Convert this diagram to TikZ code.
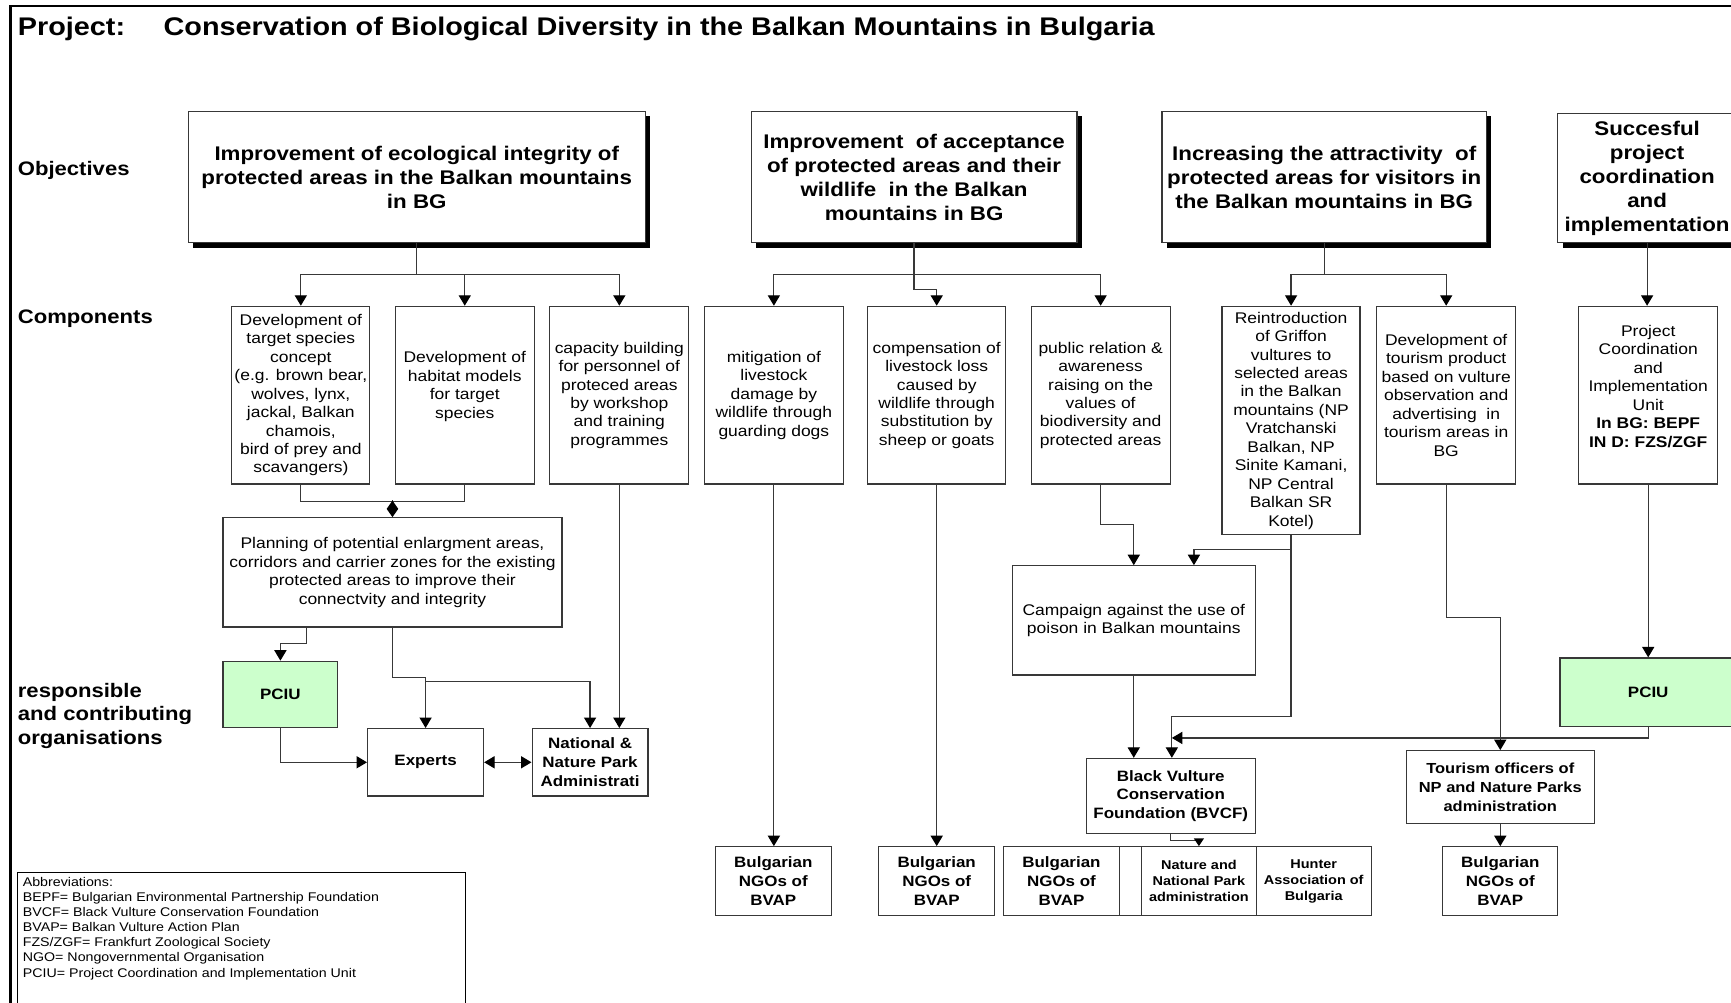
\documentclass[tikz,border=0pt]{standalone}
\usepackage{fontspec}
\setmainfont{Liberation Sans}[FakeStretch=1.13]
\usetikzlibrary{arrows.meta,shadows,calc}
\definecolor{pcgreen}{HTML}{CCFFCC}
\definecolor{ln}{HTML}{383838}
\newcommand{\fsz}[2]{\fontsize{#1}{#2}\selectfont}
\begin{document}
\begin{tikzpicture}[x=1pt,y=-1pt,
  box/.style={draw=ln, line width=1.1pt, inner sep=0pt, align=center, fill=white},
  sz/.style 2 args={minimum width=#1pt, minimum height=#2pt},
  obj/.style={box, font=\bfseries\fsz{17.9}{21.7}, drop shadow={shadow xshift=4.5pt, shadow yshift=-4.5pt, fill=black, opacity=1}},
  comp/.style={box, font=\fsz{14}{16.7}},
  ctext/.style={inner sep=0pt, align=center, font=\fsz{14}{16.7}},
  org/.style={box, font=\bfseries\fsz{13.6}{17}},
  smallorg/.style={box, font=\bfseries\fsz{11.6}{14.5}},
  pcfill/.style={fill=pcgreen},
  lab/.style={inner sep=0pt, align=left, font=\bfseries\fsz{17.7}{21.5}},
  conn/.style={draw=ln, line width=1.1pt},
  arr/.style={conn, -{Triangle[length=9.5pt,width=11pt,black]}},
  dbl/.style={conn, {Triangle[length=9.5pt,width=11pt,black]}-{Triangle[length=9.5pt,width=11pt,black]}},
]
\useasboundingbox (0,0) rectangle (1568,908);
\clip (0,0) rectangle (1568,908);
\fill[white] (0,0) rectangle (1568,908);

% frame
\draw[line width=2pt, black] (9.5,920) -- (9.5,5.4) -- (1580,5.4);

% title
\node[anchor=base west, inner sep=0pt, font=\bfseries\fsz{23.1}{26}] (tp) at (16,32) {Project:};
\node[anchor=base west, inner sep=0pt, font=\bfseries\fsz{23.1}{26}] (tt) at (148,32) {Conservation of Biological Diversity in the Balkan Mountains in Bulgaria};

% row labels
\node[lab, anchor=base west] (l1) at (16,159) {Objectives};
\node[lab, anchor=base west] (l2) at (16,293) {Components};
\node[lab, anchor=north west] (l3) at (16,618.4) {responsible\\and contributing\\organisations};

% objectives
\node[obj, sz={414}{119}] (O1) at (377.5,160.5) {Improvement of ecological integrity of\\protected areas in the Balkan mountains\\in BG};
\node[obj, sz={295}{119}] (O2) at (828,160.5) {Improvement~ of acceptance\\of protected areas and their\\wildlife~ in the Balkan\\mountains in BG};
\node[obj, sz={294}{119}] (O3) at (1199.5,160.5) {Increasing the attractivity~ of\\protected areas for visitors in\\the Balkan mountains in BG};
\node[obj, sz={162}{117}] (O4) at (1492,161.5) {Succesful\\project\\coordination\\and\\implementation};

% components
\node[comp, sz={125}{161}] (C1) at (272.5,358) {Development of\\target species\\concept\\(e.g. brown bear,\\wolves, lynx,\\jackal, Balkan\\chamois,\\bird of prey and\\scavangers)};
\node[comp, sz={126}{161}] (C2) at (421,358) {};
\node[ctext] (C2t) at (421,350) {Development of\\habitat models\\for target\\species};
\node[comp, sz={126}{161}] (C3) at (561,358) {capacity building\\for personnel of\\proteced areas\\by workshop\\and training\\programmes};
\node[comp, sz={126}{161}] (C4) at (701,358) {mitigation of\\livestock\\damage by\\wildlife through\\guarding dogs};
\node[comp, sz={125}{161}] (C5) at (848.5,358) {compensation of\\livestock loss\\caused by\\wildlife through\\substitution by\\sheep or goats};
\node[comp, sz={126}{161}] (C6) at (997,358) {public relation \&\\awareness\\raising on the\\values of\\biodiversity and\\protected areas};
\node[comp, sz={125}{207}] (C7) at (1169.5,381) {Reintroduction\\of Griffon\\vultures to\\selected areas\\in the Balkan\\mountains (NP\\Vratchanski\\Balkan, NP\\Sinite Kamani,\\NP Central\\Balkan SR\\Kotel)};
\node[comp, sz={126}{161}] (C8) at (1310,358) {Development of\\tourism product\\based on vulture\\observation and\\advertising~ in\\tourism areas in\\BG};
\node[comp, sz={126}{161}] (C9) at (1493,358) {};
\node[ctext] (C9t) at (1493,350) {Project\\Coordination\\and\\Implementation\\Unit\\\textbf{In BG: BEPF}\\\textbf{IN D: FZS/ZGF}};

% second level
\node[comp, sz={307}{99}] (P) at (355.5,518.5) {Planning of potential enlargment areas,\\corridors and carrier zones for the existing\\protected areas to improve their\\connectvity and integrity};
\node[comp, sz={220}{99}] (CA) at (1027,562) {Campaign against the use of\\poison in Balkan mountains};

% organisations
\node[org, pcfill, sz={104}{60}] (PC1) at (254,629) {PCIU};
\node[org, sz={105}{61}] (EX) at (385.5,690.5) {Experts};
\node[org, sz={105}{61}] (NA) at (534.5,690.5) {National \&\\Nature Park\\Administrati};
\node[org, pcfill, sz={160}{62}] (PC2) at (1493,627) {PCIU};
\node[org, sz={153}{68}] (BV) at (1060.5,721) {Black Vulture\\Conservation\\Foundation (BVCF)};
\node[org, font=\bfseries\fsz{13.2}{17}, sz={170}{66}] (TO) at (1359,713) {Tourism officers of\\NP and Nature Parks\\administration};

\node[org, sz={105}{62}] (N1) at (700.5,798) {Bulgarian\\NGOs of\\BVAP};
\node[org, sz={105}{62}] (N2) at (848.5,798) {Bulgarian\\NGOs of\\BVAP};
\node[org, sz={105}{62}] (N3) at (961.5,798) {Bulgarian\\NGOs of\\BVAP};
\node[box, sz={20}{62}] (EM) at (1024,798) {};
\node[smallorg, sz={104}{62}] (NN) at (1086,798) {Nature and\\National Park\\administration};
\node[smallorg, sz={104}{62}] (HU) at (1190,798) {Hunter\\Association of\\Bulgaria};
\node[org, sz={104}{62}] (N4) at (1359,798) {Bulgarian\\NGOs of\\BVAP};

% abbreviations
\node[draw=black, line width=1pt, inner sep=0pt, anchor=north west, sz={406}{140}] (AB) at (15,789.6) {};
\node[anchor=north west, inner sep=0pt, align=left, font=\fsz{11.4}{13.7}] (ABt) at (20.5,794.4) {Abbreviations:\\BEPF= Bulgarian Environmental Partnership Foundation\\BVCF= Black Vulture Conservation Foundation\\BVAP= Balkan Vulture Action Plan\\FZS/ZGF= Frankfurt Zoological Society\\NGO= Nongovernmental Organisation\\PCIU= Project Coordination and Implementation Unit};

% connectors: objectives -> components
\draw[arr] (O1.south) -- ++(0,28) -| (C1.north);
\draw[arr] (O1.south) -- ++(0,28) -| (C2.north);
\draw[arr] (O1.south) -- ++(0,28) -| (C3.north);
\draw[arr] (O2.south) -- ++(0,28) -| (C4.north);
\draw[arr] (O2.south) -- ++(0,42) -| (C5.north);
\draw[arr] (O2.south) -- ++(0,28) -| (C6.north);
\draw[arr] (O3.south) -- ++(0,28) -| (C7.north);
\draw[arr] (O3.south) -- ++(0,28) -| (C8.north);
\draw[arr] (O4.south) -- (O4.south |- C9.north);

% component 1/2 -> planning
\draw[conn] (C1.south) -- ++(0,15) -| (C2.south);
\draw[conn, -{Diamond[length=15pt,width=10.5pt,black]}] ($(P.north)+(0,-15.5)$) -- (P.north);

% planning -> organisations
\draw[arr] ($(P.south west)+(76,0)$) -- ++(0,14.5) -| (PC1.north);
\draw[arr] (P.south) -- ++(0,45) -| (EX.north);
\coordinate (j1) at ($(EX.north)+(0,-42)$);
\draw[arr] (j1) -| (NA.north);
\draw[arr] (C3.south) -- (C3.south |- NA.north);
\draw[arr] (PC1.south) |- (EX.west);
\draw[dbl] (EX.east) -- (NA.west);

% middle group
\draw[arr] (C4.south) -- (C4.south |- N1.north);
\draw[arr] (C5.south) -- (C5.south |- N2.north);
\draw[arr] (C6.south) -- ++(0,36) -| (CA.north);
\draw[arr] (C7.south) -- ++(0,13) -| ($(CA.north)+(54.5,0)$);
\coordinate (j2) at ($(BV.north)+(1,0)$);
\draw[arr] (C7.south) -- ++(0,164) -| (j2);
\draw[arr] (CA.south) -- (CA.south |- BV.north);
\draw[conn, -{Triangle[length=7pt,width=9pt,black]}] (BV.south) -- ++(0,6) -| (NN.north);

% right group
\draw[arr] (C8.south) -- ++(0,120) -| (TO.north);
\draw[arr] (C9.south) -- (C9.south |- PC2.north);
\draw[arr] (PC2.south) |- ($(j2)+(0,-18)$);
\draw[arr] (TO.south) -- (TO.south |- N4.north);
\end{tikzpicture}
\end{document}
